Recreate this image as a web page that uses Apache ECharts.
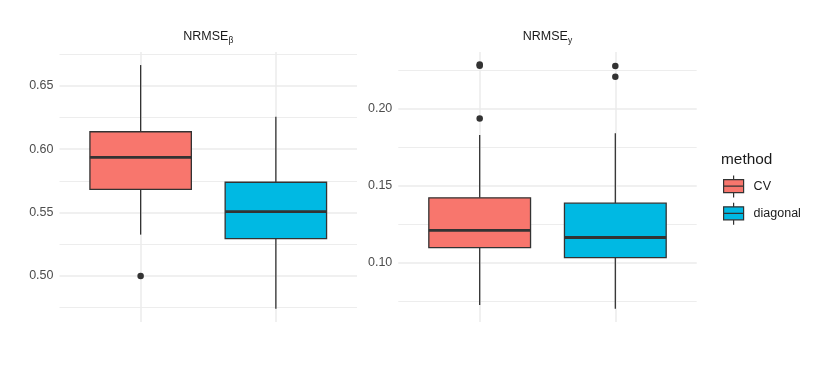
<!DOCTYPE html>
<html>
<head>
<meta charset="utf-8">
<script src="https://cdn.jsdelivr.net/npm/echarts@6/dist/echarts.min.js"></script>
<style>
  html, body { margin: 0; padding: 0; background: #fff; }
  #chart { width: 817px; height: 368px; }
</style>
</head>
<body>
<div id="chart"></div>
<script>
// categories (fill = method)
const methods = ['CV', 'diagonal'];
const methodColors = ['#F8766D', '#00B9E3'];

// box stats per method: [lower whisker, Q1, median, Q3, upper whisker]
const betaStats = [
  [0.5326, 0.5682, 0.5935, 0.6137, 0.6663],
  [0.4742, 0.5295, 0.5508, 0.5739, 0.6255]
];
const betaOutliers = [[0.500], []];

const yStats = [
  [0.0725, 0.1098, 0.1210, 0.1422, 0.1831],
  [0.0700, 0.1033, 0.1164, 0.1387, 0.1842]
];
const yOutliers = [[0.2290, 0.2282, 0.1939], [0.2280, 0.2210]];

// tick values
const betaMajor = [0.50, 0.55, 0.60, 0.65];
const betaMinor = [0.475, 0.525, 0.575, 0.625, 0.675];
const yMajor = [0.10, 0.15, 0.20];
const yMinor = [0.075, 0.125, 0.175, 0.225];

const FONT = '"Liberation Sans", Arial, sans-serif';
const SMALL = 12.5;
const BOX_WIDTH = 0.75;
const GRID_COLOR = '#ebebeb';
const LINE = '#333333';

const panels = [
  { stats: betaStats, outliers: betaOutliers, major: betaMajor, minor: betaMinor,
    min: 0.4637, max: 0.6766, left: 59.5, width: 297.5, sub: 'β' },
  { stats: yStats, outliers: yOutliers, major: yMajor, minor: yMinor,
    min: 0.0614, max: 0.2371, left: 398.3, width: 298.4, sub: 'y' }
];

function renderBox(params, api) {
  const x = api.value(0);
  const pMin = api.coord([x, api.value(1)]);
  const pQ1 = api.coord([x, api.value(2)]);
  const pMed = api.coord([x, api.value(3)]);
  const pQ3 = api.coord([x, api.value(4)]);
  const pMax = api.coord([x, api.value(5)]);
  const left = api.coord([x - BOX_WIDTH / 2, api.value(3)])[0];
  const right = api.coord([x + BOX_WIDTH / 2, api.value(3)])[0];
  return {
    type: 'group',
    children: [
      { type: 'line', shape: { x1: pMin[0], y1: pMin[1], x2: pQ1[0], y2: pQ1[1] }, style: { stroke: LINE, lineWidth: 1.3 } },
      { type: 'line', shape: { x1: pQ3[0], y1: pQ3[1], x2: pMax[0], y2: pMax[1] }, style: { stroke: LINE, lineWidth: 1.3 } },
      { type: 'rect', shape: { x: left, y: pQ3[1], width: right - left, height: pQ1[1] - pQ3[1] },
        style: { fill: api.visual('color'), stroke: LINE, lineWidth: 1.3 } },
      { type: 'line', shape: { x1: left, y1: pMed[1], x2: right, y2: pMed[1] }, style: { stroke: LINE, lineWidth: 2.8 } }
    ]
  };
}

const grid = [], xAxis = [], yAxis = [], series = [], title = [];

panels.forEach(function (p, i) {
  grid.push({ left: p.left, width: p.width, top: 52, height: 270 });
  xAxis.push({
    type: 'value', gridIndex: i, min: 0.4, max: 2.6,
    axisLine: { show: false },
    axisTick: { show: false, customValues: [1, 2] },
    axisLabel: { show: false },
    splitLine: { show: true, lineStyle: { color: GRID_COLOR, width: 1.5 } }
  });
  // major grid + labels
  yAxis.push({
    type: 'value', gridIndex: i, min: p.min, max: p.max,
    axisLine: { show: false },
    axisTick: { show: false, customValues: p.major },
    axisLabel: { customValues: p.major, color: '#4d4d4d', fontSize: SMALL, fontFamily: FONT, margin: 6,
      formatter: function (v) { return v.toFixed(2); } },
    splitLine: { show: true, lineStyle: { color: GRID_COLOR, width: 1.5 } }
  });
  // minor grid
  yAxis.push({
    type: 'value', gridIndex: i, min: p.min, max: p.max, position: 'left',
    axisLine: { show: false },
    axisTick: { show: false, customValues: p.minor },
    axisLabel: { show: false },
    splitLine: { show: true, lineStyle: { color: GRID_COLOR, width: 0.9 } }
  });

  title.push({
    text: '{m|NRMSE}{s|' + p.sub + '}',
    left: p.left + p.width / 2, top: 29, textAlign: 'center', padding: 0,
    textStyle: {
      rich: {
        m: { fontSize: SMALL, fontWeight: 'normal', color: '#1a1a1a', fontFamily: FONT, lineHeight: 16 },
        s: { fontSize: 8.5, fontWeight: 'normal', color: '#1a1a1a', fontFamily: FONT, lineHeight: 16,
          verticalAlign: 'bottom', padding: [6, 0, 0, 0] }
      }
    }
  });

  methods.forEach(function (m, k) {
    series.push({
      type: 'custom', name: m,
      xAxisIndex: i, yAxisIndex: i * 2,
      itemStyle: { color: methodColors[k] },
      encode: { x: 0, y: [1, 2, 3, 4, 5] },
      renderItem: renderBox,
      data: [[k + 1].concat(p.stats[k])],
      z: 2
    });
  });

  const pts = [];
  p.outliers.forEach(function (vals, k) {
    vals.forEach(function (v) { pts.push([k + 1, v]); });
  });
  series.push({
    type: 'scatter', xAxisIndex: i, yAxisIndex: i * 2,
    symbolSize: 6.5, itemStyle: { color: LINE, opacity: 1 },
    data: pts, z: 5, silent: true
  });
});

title.push({
  text: 'method', left: 721, top: 152, padding: 0,
  textStyle: { fontSize: 15.4, fontWeight: 'normal', color: '#1a1a1a', fontFamily: FONT }
});

const keyIcon = 'path://M10,0L10,4M0,4L20,4L20,17L0,17ZM0,10.5L20,10.5M10,17L10,22';

const option = {
  backgroundColor: '#ffffff',
  animation: false,
  title: title,
  grid: grid,
  xAxis: xAxis,
  yAxis: yAxis,
  legend: {
    orient: 'vertical', left: 723, top: 175, padding: 0,
    itemWidth: 20, itemHeight: 22, itemGap: 4,
    textStyle: { fontSize: SMALL, color: '#1a1a1a', fontFamily: FONT, padding: [0, 0, 0, 5] },
    data: methods.map(function (m, k) {
      return { name: m, icon: keyIcon,
        itemStyle: { color: methodColors[k], borderColor: LINE, borderWidth: 1.2 } };
    })
  },
  series: series
};

const chart = echarts.init(document.getElementById('chart'));
chart.setOption(option);
</script>
</body>
</html>
